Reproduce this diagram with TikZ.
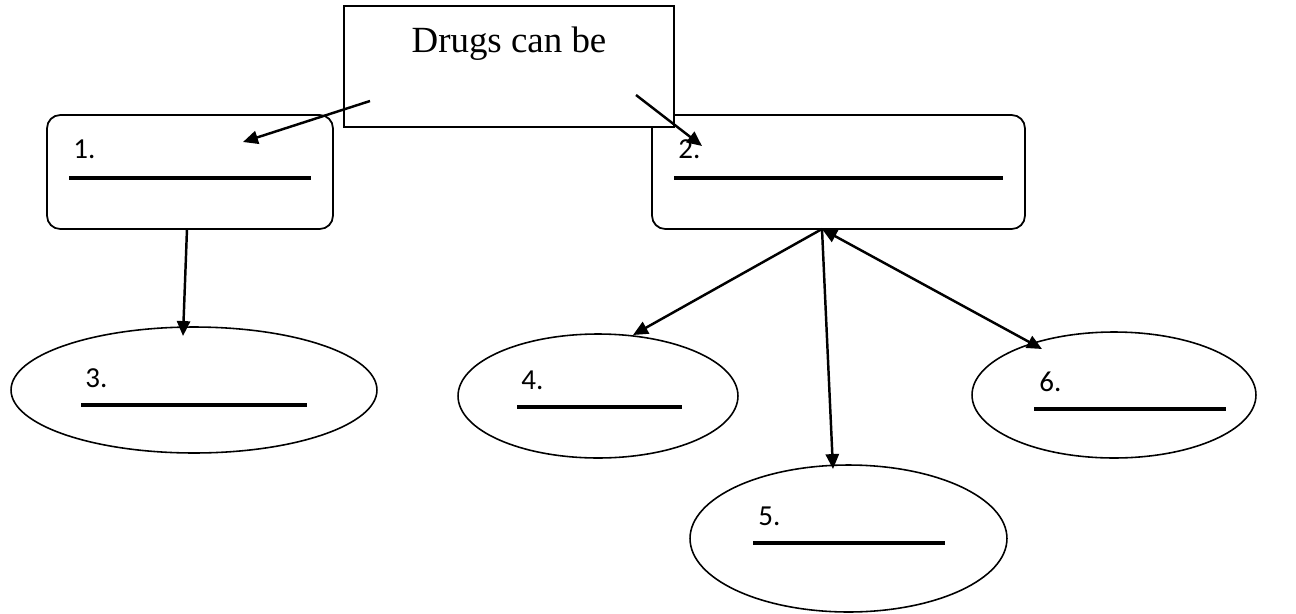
\documentclass[tikz,border=0pt]{standalone}
\usepackage{fontspec}
\setmainfont{Liberation Serif}
\newfontfamily\numfont{Carlito}
\usetikzlibrary{arrows.meta,shapes.geometric,positioning}

\begin{document}
\begin{tikzpicture}[
    x=0.02cm, y=-0.02cm,
    head/.style={line width=1.4pt, -{Triangle[length=8.5pt,width=7.5pt]}},
    both/.style={line width=1.4pt, {Triangle[length=8.5pt,width=7.5pt]}-{Triangle[length=8.5pt,width=7.5pt]}},
    answer/.style={rectangle, draw, line width=1pt, rounded corners=7.5pt, minimum height=2.28cm},
    kind/.style={ellipse, draw, line width=0.9pt, inner sep=0pt},
    num/.style={font=\numfont\fontsize{16.5}{18}\selectfont, anchor=base west, inner sep=0pt},
    blank/.style={line width=2.2pt}
]
\useasboundingbox (0,0) rectangle (1296,613);

% Answer boxes
\node[answer, minimum width=5.72cm] (b1) at (190,172) {};
\node[answer, minimum width=7.46cm] (b2) at (838.5,172) {};

% Title box
\node[rectangle, draw, fill=white, line width=1pt, minimum width=6.6cm, minimum height=2.42cm] (title) at (509,66.5) {};
\node[anchor=base, inner sep=0pt, font=\fontsize{21}{24}\selectfont] (titletext) at (509,52) {Drugs can be};

% Ellipses
\node[kind, minimum width=7.32cm, minimum height=2.52cm] (e3) at (194,390) {};
\node[kind, minimum width=5.6cm, minimum height=2.48cm] (e4) at (598,396) {};
\node[kind, minimum width=6.34cm, minimum height=2.94cm] (e5) at (848.5,538.5) {};
\node[kind, minimum width=5.68cm, minimum height=2.52cm] (e6) at (1114,395) {};

% Numbers
\node[num] (n1) at (73,158) {1.};
\node[num] (n2) at (678,158) {2.};
\node[num] (n3) at (85,387) {3.};
\node[num] (n4) at (521,389) {4.};
\node[num] (n5) at (758,525) {5.};
\node[num] (n6) at (1039,391) {6.};

% Blanks
\draw[blank] (69,178) -- (311,178);
\draw[blank] (674,178) -- (1003,178);
\draw[blank] (81,405) -- (307,405);
\draw[blank] (517,407) -- (682,407);
\draw[blank] (753,543) -- (945,543);
\draw[blank] (1034,409) -- (1226,409);

% Arrow ends
\coordinate (t1) at (370,101);
\coordinate (t2) at (636,95);
\coordinate (a1) at (243,142);
\coordinate (a2) at (702,146);
\coordinate (d1) at (187,229);
\coordinate (hub) at (822,229);
\coordinate (a3) at (183,336);
\coordinate (a4) at (633,335);
\coordinate (a5) at (833,469);
\coordinate (a6) at (1042,349);

% Arrows
\draw[head] (t1) -- (a1);
\draw[head] (t2) -- (a2);
\draw[head] (d1) -- (a3);
\draw[head] (hub) -- (a4);
\draw[head] (hub) -- (a5);
\draw[both] (hub) -- (a6);

\end{tikzpicture}
\end{document}
